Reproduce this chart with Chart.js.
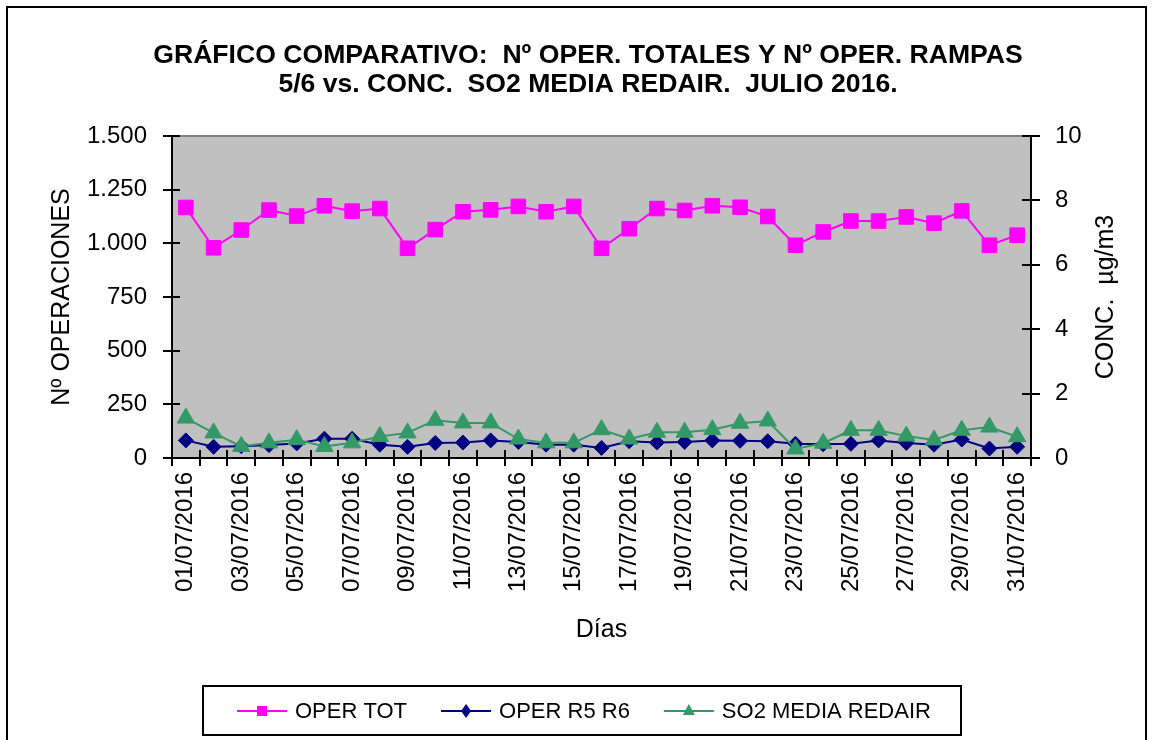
<!DOCTYPE html>
<html>
<head>
<meta charset="utf-8">
<script src="https://cdn.jsdelivr.net/npm/chart.js"></script>
<style>
  html, body { margin: 0; padding: 0; background: #ffffff; }
  canvas { display: block; }
</style>
</head>
<body>
<canvas id="c" width="1152" height="740"></canvas>
<script>
const days = ['01/07/2016','02/07/2016','03/07/2016','04/07/2016','05/07/2016','06/07/2016','07/07/2016','08/07/2016','09/07/2016','10/07/2016',
  '11/07/2016','12/07/2016','13/07/2016','14/07/2016','15/07/2016','16/07/2016','17/07/2016','18/07/2016','19/07/2016','20/07/2016',
  '21/07/2016','22/07/2016','23/07/2016','24/07/2016','25/07/2016','26/07/2016','27/07/2016','28/07/2016','29/07/2016','30/07/2016','31/07/2016'];

const operTot = [1167, 979, 1062, 1155, 1127, 1175, 1150, 1162, 977, 1064,
  1147, 1156, 1172, 1147, 1172, 977, 1068, 1162, 1153, 1175,
  1168, 1125, 991, 1053, 1104, 1104, 1123, 1094, 1151, 991, 1038];

const operR5R6 = [82, 52, 55, 60, 68, 90, 90, 62, 52, 70,
  72, 82, 75, 62, 62, 47, 78, 72, 75, 82,
  80, 78, 66, 64, 66, 82, 70, 62, 86, 44, 52];

const so2Media = [1.24, 0.78, 0.36, 0.47, 0.57, 0.36, 0.47, 0.67, 0.78, 1.17,
  1.09, 1.09, 0.59, 0.47, 0.47, 0.88, 0.59, 0.80, 0.80, 0.88,
  1.08, 1.15, 0.28, 0.46, 0.86, 0.86, 0.68, 0.56, 0.86, 0.96, 0.66];

const leftTickLabels = ['0', '250', '500', '750', '1.000', '1.250', '1.500'];
const rightTickLabels = ['0', '2', '4', '6', '8', '10'];

const seriesNames = ['OPER TOT', 'OPER R5 R6', 'SO2 MEDIA REDAIR'];
const titleLines = ['GRÁFICO COMPARATIVO:  Nº OPER. TOTALES Y Nº OPER. RAMPAS', '5/6 vs. CONC.  SO2 MEDIA REDAIR.  JULIO 2016.'];
const xTitle = 'Días';
const yTitle = 'Nº OPERACIONES';
const y1Title = 'CONC.  µg/m3';

const FONT = "'Liberation Sans', Arial, sans-serif";

const decorPlugin = {
  id: 'decor',
  beforeDraw(chart) {
    const ctx = chart.ctx;
    ctx.save();
    ctx.fillStyle = '#ffffff';
    ctx.fillRect(0, 0, chart.width, chart.height);
    ctx.restore();
  },
  beforeDatasetsDraw(chart) {
    const {ctx, chartArea: a, scales} = chart;
    const x = scales.x, y = scales.y, y1 = scales.y1;
    ctx.save();
    ctx.fillStyle = '#C0C0C0';
    ctx.fillRect(a.left, a.top, a.right - a.left, a.bottom - a.top);
    ctx.strokeStyle = '#808080';
    ctx.lineWidth = 2;
    ctx.strokeRect(a.left, a.top, a.right - a.left, a.bottom - a.top);
    ctx.strokeStyle = '#000000';
    ctx.lineWidth = 2;
    ctx.beginPath();
    ctx.moveTo(a.left, a.top); ctx.lineTo(a.left, a.bottom);
    ctx.moveTo(a.right, a.top); ctx.lineTo(a.right, a.bottom);
    ctx.moveTo(a.left, a.bottom); ctx.lineTo(a.right, a.bottom);
    y.ticks.forEach(t => {
      const p = Math.round(y.getPixelForValue(t.value));
      ctx.moveTo(a.left - 9, p); ctx.lineTo(a.left + 8, p);
    });
    y1.ticks.forEach(t => {
      const p = Math.round(y1.getPixelForValue(t.value));
      ctx.moveTo(a.right - 9, p); ctx.lineTo(a.right + 9, p);
    });
    const n = days.length;
    for (let i = 0; i <= n; i++) {
      let px;
      if (i === 0) px = x.getPixelForValue(0) - (x.getPixelForValue(1) - x.getPixelForValue(0)) / 2;
      else if (i === n) px = x.getPixelForValue(n - 1) + (x.getPixelForValue(n - 1) - x.getPixelForValue(n - 2)) / 2;
      else px = (x.getPixelForValue(i - 1) + x.getPixelForValue(i)) / 2;
      px = Math.round(px);
      ctx.moveTo(px, a.bottom - 8); ctx.lineTo(px, a.bottom + 8);
    }
    ctx.stroke();
    ctx.restore();
  },
  afterDraw(chart) {
    const {ctx, chartArea: a} = chart;
    ctx.save();
    ctx.fillStyle = '#000000';
    ctx.font = '25px ' + FONT;
    ctx.textAlign = 'center';
    ctx.textBaseline = 'middle';
    ctx.translate(1106, (a.top + a.bottom) / 2);
    ctx.rotate(-Math.PI / 2);
    ctx.fillText(y1Title, 0, 0);
    ctx.restore();

    ctx.save();
    ctx.strokeStyle = '#000000';
    ctx.lineWidth = 2;
    ctx.strokeRect(203, 686, 758, 49);
    ctx.font = '22px ' + FONT;
    ctx.textBaseline = 'middle';
    ctx.textAlign = 'left';
    let lx = 237;
    const ly = 711;
    chart.data.datasets.forEach((ds) => {
      const color = ds.borderColor;
      ctx.strokeStyle = color;
      ctx.lineWidth = 2;
      ctx.beginPath();
      ctx.moveTo(lx, ly); ctx.lineTo(lx + 50, ly);
      ctx.stroke();
      const mx = lx + 25;
      ctx.fillStyle = color;
      ctx.beginPath();
      if (ds.pointStyle === 'rect') {
        ctx.rect(mx - 5, ly - 5, 10, 10);
      } else if (ds.pointStyle === 'rectRot') {
        ctx.moveTo(mx, ly - 7); ctx.lineTo(mx + 5, ly); ctx.lineTo(mx, ly + 7); ctx.lineTo(mx - 5, ly);
        ctx.closePath();
      } else {
        ctx.moveTo(mx, ly - 7); ctx.lineTo(mx + 6, ly + 4); ctx.lineTo(mx - 6, ly + 4);
        ctx.closePath();
      }
      ctx.fill();
      ctx.fillStyle = '#000000';
      const tx = lx + 58;
      ctx.fillText(ds.label, tx, ly + 1);
      lx = tx + ctx.measureText(ds.label).width + 34;
    });
    ctx.lineWidth = 2;
    ctx.strokeStyle = '#000000';
    ctx.strokeRect(7, 7, 1139, 760);
    ctx.restore();
  }
};

new Chart(document.getElementById('c'), {
  type: 'line',
  data: {
    labels: days,
    datasets: [
      {
        label: seriesNames[0], data: operTot, yAxisID: 'y', order: 3,
        borderColor: '#FF00FF', backgroundColor: '#FF00FF', borderWidth: 2,
        pointStyle: 'rect', pointRadius: 10.3, pointBorderWidth: 1,
        pointBackgroundColor: '#FF00FF', pointBorderColor: '#FF00FF', tension: 0
      },
      {
        label: seriesNames[1], data: operR5R6, yAxisID: 'y', order: 2,
        borderColor: '#000080', backgroundColor: '#000080', borderWidth: 2,
        pointStyle: 'rectRot', pointRadius: 7.5, pointBorderWidth: 1,
        pointBackgroundColor: '#000080', pointBorderColor: '#000080', tension: 0
      },
      {
        label: seriesNames[2], data: so2Media, yAxisID: 'y1', order: 1,
        borderColor: '#339966', backgroundColor: '#339966', borderWidth: 2,
        pointStyle: 'triangle', pointRadius: 10, pointBorderWidth: 1,
        pointBackgroundColor: '#339966', pointBorderColor: '#339966', tension: 0
      }
    ]
  },
  options: {
    responsive: false,
    animation: false,
    events: [],
    layout: { padding: { left: 24, right: 0, top: 0, bottom: 82 } },
    plugins: {
      legend: { display: false },
      tooltip: { enabled: false },
      title: {
        display: true,
        text: titleLines,
        color: '#000000',
        font: { family: FONT, size: 26.6, weight: 'bold', lineHeight: 29 / 26.6 },
        padding: { top: 41, bottom: 37 }
      }
    },
    scales: {
      x: {
        type: 'category',
        offset: true,
        grid: { display: false, drawTicks: false },
        border: { display: false },
        ticks: {
          autoSkip: false, minRotation: 90, maxRotation: 90, padding: 14,
          color: '#000000', font: { family: FONT, size: 24 },
          callback: (v, i) => (i % 2 === 0 ? days[i] : '')
        },
        title: {
          display: true, text: xTitle, color: '#000000',
          font: { family: FONT, size: 25 }, padding: { top: 0, bottom: 13 }
        },
        afterFit: s => { s.height = 200; }
      },
      y: {
        position: 'left', min: 0, max: 1500,
        grid: { display: false, drawTicks: false },
        border: { display: false },
        ticks: {
          stepSize: 250, padding: 25, color: '#000000',
          font: { family: FONT, size: 24 },
          callback: (v, i) => leftTickLabels[i]
        },
        title: {
          display: true, text: yTitle, color: '#000000',
          font: { family: FONT, size: 25 }, padding: { top: 23, bottom: 0 }
        },
        afterFit: s => { s.width = 148; }
      },
      y1: {
        position: 'right', min: 0, max: 10,
        grid: { display: false, drawTicks: false },
        border: { display: false },
        ticks: {
          stepSize: 2, padding: 24, color: '#000000',
          font: { family: FONT, size: 24 },
          callback: (v, i) => rightTickLabels[i]
        },
        afterFit: s => { s.width = 121; }
      }
    }
  },
  plugins: [decorPlugin]
});
</script>
</body>
</html>
